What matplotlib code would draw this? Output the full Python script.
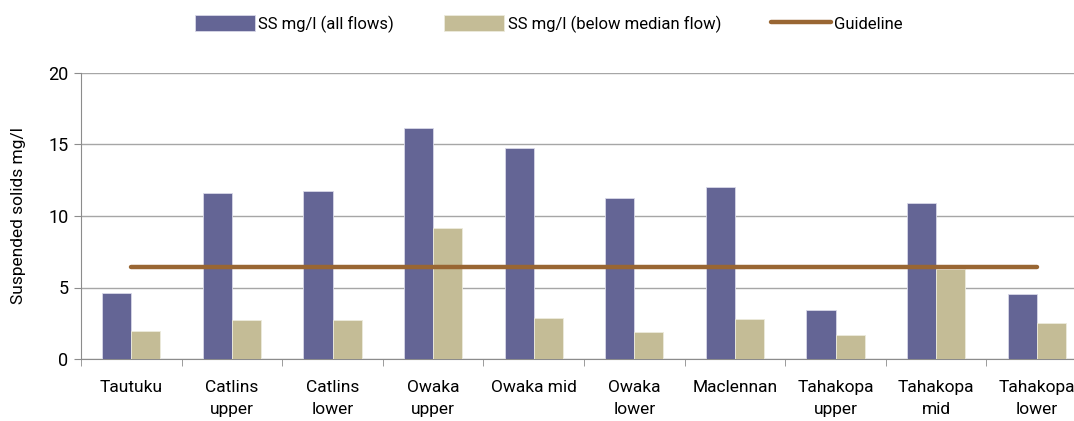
import matplotlib.pyplot as plt
import numpy as np

sites = ["Tautuku", "Catlins\nupper", "Catlins\nlower", "Owaka\nupper", "Owaka mid",
         "Owaka\nlower", "Maclennan", "Tahakopa\nupper", "Tahakopa\nmid", "Tahakopa\nlower"]
ss_all = [4.62, 11.6, 11.74, 16.13, 14.73, 11.25, 12.02, 3.43, 10.9, 4.57]
ss_low = [1.96, 2.71, 2.73, 9.17, 2.85, 1.89, 2.8, 1.7, 6.28, 2.52]
guideline = 6.4

plt.rcParams['font.family'] = ['Roboto', 'DejaVu Sans']

fig = plt.figure(figsize=(10.74, 4.21), dpi=100)
ax = fig.add_axes([81 / 1074, 1 - 359 / 421, 1006 / 1074, 286 / 421])

x = np.arange(len(sites))
w = 0.29
b1 = ax.bar(x - w / 2, ss_all, w, color="#646595", edgecolor="#d8d8e8", linewidth=0.6,
            label="SS mg/l (all flows)", zorder=3)
b2 = ax.bar(x + w / 2, ss_low, w, color="#c4bc96", edgecolor="#ecebdc", linewidth=0.6,
            label="SS mg/l (below median flow)", zorder=3)
ln, = ax.plot([x[0], x[-1]], [guideline, guideline], color="#996633", lw=3.2,
              solid_capstyle="round", label="Guideline", zorder=4)

ax.set_xlim(-0.5, len(sites) - 0.5)
ax.set_ylim(0, 20)
ax.set_yticks([0, 5, 10, 15, 20])
ax.yaxis.grid(True, color="#a6a6a6", lw=1)
ax.set_axisbelow(True)

ax.set_xticks(x)
ax.set_xticklabels(sites, fontsize=12.5, linespacing=1.6, va="top")
ax.set_xticks(np.arange(len(sites) + 1) - 0.5, minor=True)
ax.tick_params(axis="x", which="major", length=0, pad=15)
ax.tick_params(axis="x", which="minor", length=5, color="#8c8c8c")
ax.tick_params(axis="y", length=5, color="#8c8c8c", labelsize=13, pad=4)

for s in ["top", "right"]:
    ax.spines[s].set_visible(False)
for s in ["left", "bottom"]:
    ax.spines[s].set_color("#8c8c8c")

ax.set_ylabel("Suspended solids mg/l", fontsize=12.5, labelpad=16)

fig.legend(handles=[b1, b2, ln], loc="center", bbox_to_anchor=(549 / 1074, 1 - 24 / 421),
           ncol=3, frameon=False, fontsize=12, handlelength=3.6, handleheight=1.1,
           handletextpad=0.2, columnspacing=3.0)

fig.savefig("out.png", dpi=100)
